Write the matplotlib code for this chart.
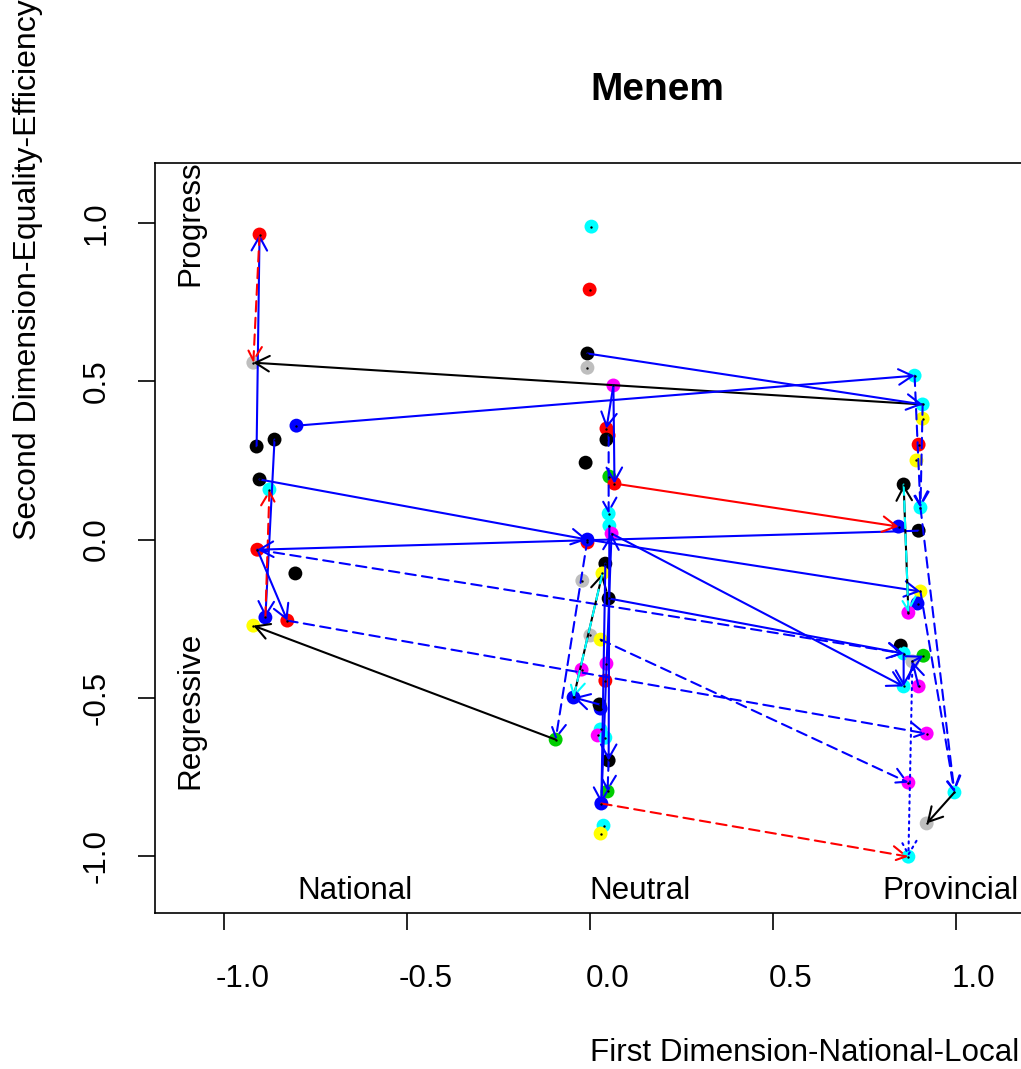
import matplotlib.pyplot as plt
from matplotlib.transforms import ScaledTranslation

plt.rcParams['font.family'] = ['Liberation Sans', 'DejaVu Sans']

# ---- points (x = first dimension, y = second dimension, colour) ----
pt_x = [-0.904, -0.921, -0.912, -0.863, -0.803, -0.904, -0.877, -0.910, -0.806, -0.888, -0.828, -0.921,
        0.004, -0.001, -0.007, -0.007, 0.064, 0.045, 0.051, 0.045, -0.012, 0.053, 0.067, 0.051, 0.053,
        0.059, -0.007, -0.007, 0.042, 0.034, -0.021, 0.051, 0.001, 0.029, 0.045, -0.023, 0.042, -0.045,
        0.029, 0.026, 0.029, 0.021, 0.042, 0.051, -0.094, 0.048, 0.031, 0.037, 0.029,
        0.888, 0.910, 0.910, 0.899, 0.893, 0.858, 0.904, 0.844, 0.899, 0.904, 0.896, 0.871, 0.850,
        0.858, 0.912, 0.882, 0.858, 0.899, 0.921, 0.871, 0.997, 0.921, 0.871]
pt_y = [0.964, 0.559, 0.294, 0.316, 0.360, 0.190, 0.158, -0.032, -0.107, -0.246, -0.256, -0.272,
        0.989, 0.790, 0.588, 0.543, 0.487, 0.351, 0.329, 0.316, 0.243, 0.199, 0.177, 0.082, 0.044,
        0.019, -0.009, 0.000, -0.076, -0.107, -0.130, -0.186, -0.303, -0.316, -0.392, -0.411, -0.446,
        -0.499, -0.534, -0.521, -0.600, -0.619, -0.626, -0.698, -0.632, -0.796, -0.834, -0.904, -0.929,
        0.518, 0.427, 0.382, 0.300, 0.250, 0.174, 0.101, 0.041, 0.028, -0.164, -0.202, -0.231, -0.335,
        -0.360, -0.367, -0.385, -0.464, -0.464, -0.613, -0.768, -0.799, -0.897, -1.002]
pt_col = ['red', 'gray', 'black', 'black', 'blue', 'black', 'cyan', 'red', 'black', 'blue', 'red', 'yellow',
          'cyan', 'red', 'black', 'gray', 'magenta', 'red', 'red', 'black', 'black', 'green', 'red', 'cyan', 'cyan',
          'magenta', 'red', 'blue', 'black', 'yellow', 'gray', 'black', 'gray', 'yellow', 'magenta', 'magenta', 'red', 'blue',
          'blue', 'black', 'cyan', 'magenta', 'cyan', 'black', 'green', 'green', 'blue', 'cyan', 'yellow',
          'cyan', 'cyan', 'yellow', 'red', 'yellow', 'black', 'cyan', 'blue', 'black', 'yellow', 'blue', 'magenta', 'black',
          'cyan', 'green', 'gray', 'cyan', 'magenta', 'magenta', 'magenta', 'cyan', 'gray', 'cyan']

# ---- movements between positions (from -> to, colour, line type) ----
arr_x0 = [-0.912, -0.904, 0.910, -0.007, -0.803, -0.863, -0.888, -0.904, 0.899, -0.910, -0.910, -0.828,
          -0.007, -0.094, 0.064, 0.064, 0.051, 0.067, -0.007, 0.059, 0.051, 0.029, 0.026, -0.045, 0.034,
          0.053, 0.031, 0.042, 0.051, 0.031, 0.888, 0.910, 0.904, 0.904, 0.997, 0.871, 0.858, 0.882,
          0.858, 0.899, 0.882]
arr_y0 = [0.294, 0.964, 0.427, 0.588, 0.360, 0.316, -0.246, 0.190, 0.028, -0.032, -0.032, -0.256,
          0.000, -0.632, 0.487, 0.487, 0.329, 0.177, 0.000, 0.019, -0.186, -0.316, -0.521, -0.499, -0.107,
          0.044, -0.834, -0.076, -0.698, -0.834, 0.518, 0.427, 0.101, -0.164, -0.799, -0.231, 0.174, -0.385,
          -0.360, -0.464, -0.385]
arr_x1 = [-0.904, -0.921, -0.921, 0.910, 0.888, -0.888, -0.877, -0.007, -0.910, -0.828, 0.858, 0.921,
          -0.094, -0.921, 0.045, 0.067, 0.051, 0.844, 0.904, 0.858, 0.858, 0.871, -0.045, 0.034, -0.045,
          0.051, 0.059, 0.031, 0.048, 0.871, 0.904, 0.904, 0.997, 0.997, 0.921, 0.858, 0.871, 0.871,
          0.858, 0.882, 0.912]
arr_y1 = [0.964, 0.559, 0.559, 0.427, 0.518, -0.246, 0.158, 0.000, -0.032, -0.256, -0.360, -0.613,
          -0.632, -0.272, 0.351, 0.177, 0.082, 0.041, -0.164, -0.464, -0.360, -0.768, -0.499, -0.107, -0.499,
          -0.698, 0.019, -0.834, -0.796, -1.002, 0.101, 0.101, -0.799, -0.799, -0.897, 0.174, -0.231, -1.002,
          -0.464, -0.385, -0.367]
arr_col = ['blue', 'red', 'black', 'blue', 'blue', 'blue', 'red', 'blue', 'blue', 'blue', 'blue', 'blue',
           'blue', 'black', 'blue', 'blue', 'blue', 'red', 'blue', 'blue', 'blue', 'blue', 'blue', 'black', 'cyan',
           'blue', 'blue', 'blue', 'blue', 'red', 'blue', 'blue', 'blue', 'blue', 'black', 'black', 'cyan', 'blue',
           'blue', 'blue', 'blue']
arr_lty = ['solid', 'dashed', 'solid', 'solid', 'solid', 'solid', 'dashed', 'solid', 'solid', 'solid', 'dashed', 'dashed',
           'dashed', 'solid', 'solid', 'solid', 'dashed', 'solid', 'solid', 'solid', 'solid', 'dashed', 'solid', 'solid', 'dashed',
           'solid', 'solid', 'solid', 'dashed', 'dashed', 'dashed', 'dashed', 'dashed', 'dashed', 'solid', 'solid', 'dashed', 'dotted',
           'solid', 'solid', 'solid']

xticks = [-1.0, -0.5, 0.0, 0.5, 1.0]
yticks = [-1.0, -0.5, 0.0, 0.5, 1.0]

rcol = {'black': '#000000', 'red': '#FF0000', 'green': '#00CD00', 'blue': '#0000FF',
        'cyan': '#00FFFF', 'magenta': '#FF00FF', 'yellow': '#FFFF00', 'gray': '#BEBEBE'}
ltys = {'solid': '-', 'dashed': (0, (5, 3)), 'dotted': (0, (1, 2.2))}

fig = plt.figure(figsize=(10.21, 10.69), dpi=100)
ax = fig.add_axes([155 / 1021, 156 / 1069, 870 / 1021, 750 / 1069])
ax.set_xlim(-1.19, 1.19)
ax.set_ylim(-1.18, 1.19)

ax.scatter(pt_x, pt_y, s=100, c=[rcol[c] for c in pt_col], linewidths=0, zorder=2)

for x0, y0, x1, y1, c, l in zip(arr_x0, arr_y0, arr_x1, arr_y1, arr_col, arr_lty):
    ax.annotate('', xy=(x1, y1), xytext=(x0, y0), zorder=3,
                arrowprops=dict(arrowstyle='->,head_length=0.5,head_width=0.28',
                                color=rcol[c], lw=1.5, linestyle=ltys[l],
                                shrinkA=0, shrinkB=0, mutation_scale=20))

ax.scatter(pt_x, pt_y, s=3, c='black', linewidths=0, zorder=4)

fs = 22.6
ax.text(-0.644, -1.109, 'National', fontsize=fs, ha='center', va='center')
ax.text(0.138, -1.109, 'Neutral', fontsize=fs, ha='center', va='center')
ax.text(0.986, -1.109, 'Provincial', fontsize=fs, ha='center', va='center')
ax.text(-1.093, 1.0, 'Progress', fontsize=fs, rotation=90, ha='center', va='center')
ax.text(-1.093, -0.54, 'Regressive', fontsize=fs, rotation=90, ha='center', va='center')

ax.set_xticks(xticks)
ax.set_xticklabels(['%.1f' % t for t in xticks])
ax.set_yticks(yticks)
ax.set_yticklabels(['%.1f' % t for t in yticks], rotation=90, va='center')
ax.tick_params(axis='x', length=12.5, width=1.2, pad=24, labelsize=fs)
ax.tick_params(axis='y', length=12.5, width=1.2, pad=19, labelsize=fs)
for lab in ax.get_xticklabels():
    lab.set_transform(lab.get_transform() + ScaledTranslation(0.18, 0, fig.dpi_scale_trans))
for sp in ax.spines.values():
    sp.set_linewidth(1.2)

fig.text(657 / 1021, 1 - 90 / 1069, 'Menem', fontsize=28, fontweight='bold', ha='center', va='center')
fig.text(590 / 1021, 1 - 1053 / 1069, 'First Dimension-National-Local', fontsize=fs, ha='left', va='center')
fig.text(28 / 1021, 1 - 540 / 1069, 'Second Dimension-Equality-Efficiency', fontsize=23.0,
         rotation=90, rotation_mode='anchor', ha='left', va='center')

fig.savefig('out.png', dpi=100)
